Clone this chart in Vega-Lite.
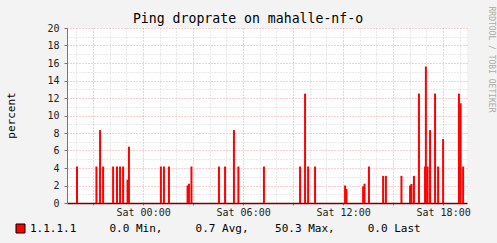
{
  "$schema": "https://vega.github.io/schema/vega-lite/v6.json",
  "width": 400,
  "height": 175,
  "autosize": {"type": "none"},
  "padding": {"left": 67, "top": 28, "right": 30, "bottom": 40},
  "background": "#F3F3F3",
  "title": {
    "text": "Ping droprate on mahalle-nf-o",
    "font": "DejaVu Sans Mono",
    "fontSize": 13.2,
    "fontWeight": "normal",
    "color": "#000000",
    "anchor": "middle",
    "dx": -19,
    "dy": 24
  },
  "data": {
    "values": [
      {"t": "2024-01-05T20:02:00Z", "v": 4.17, "host": "1.1.1.1"},
      {"t": "2024-01-05T21:12:00Z", "v": 4.17, "host": "1.1.1.1"},
      {"t": "2024-01-05T21:25:00Z", "v": 8.33, "host": "1.1.1.1"},
      {"t": "2024-01-05T21:36:00Z", "v": 4.17, "host": "1.1.1.1"},
      {"t": "2024-01-05T22:12:00Z", "v": 4.17, "host": "1.1.1.1"},
      {"t": "2024-01-05T22:26:00Z", "v": 4.17, "host": "1.1.1.1"},
      {"t": "2024-01-05T22:37:00Z", "v": 4.17, "host": "1.1.1.1"},
      {"t": "2024-01-05T22:48:00Z", "v": 4.17, "host": "1.1.1.1"},
      {"t": "2024-01-05T23:04:00Z", "v": 2.67, "host": "1.1.1.1"},
      {"t": "2024-01-05T23:09:00Z", "v": 6.44, "host": "1.1.1.1"},
      {"t": "2024-01-06T01:04:00Z", "v": 4.17, "host": "1.1.1.1"},
      {"t": "2024-01-06T01:15:00Z", "v": 4.17, "host": "1.1.1.1"},
      {"t": "2024-01-06T01:33:00Z", "v": 4.17, "host": "1.1.1.1"},
      {"t": "2024-01-06T02:40:00Z", "v": 2.0, "host": "1.1.1.1"},
      {"t": "2024-01-06T02:45:00Z", "v": 2.2, "host": "1.1.1.1"},
      {"t": "2024-01-06T02:54:00Z", "v": 4.17, "host": "1.1.1.1"},
      {"t": "2024-01-06T04:33:00Z", "v": 4.17, "host": "1.1.1.1"},
      {"t": "2024-01-06T04:55:00Z", "v": 4.17, "host": "1.1.1.1"},
      {"t": "2024-01-06T05:27:00Z", "v": 8.33, "host": "1.1.1.1"},
      {"t": "2024-01-06T05:43:00Z", "v": 4.17, "host": "1.1.1.1"},
      {"t": "2024-01-06T07:15:00Z", "v": 4.17, "host": "1.1.1.1"},
      {"t": "2024-01-06T09:25:00Z", "v": 4.17, "host": "1.1.1.1"},
      {"t": "2024-01-06T09:43:00Z", "v": 12.5, "host": "1.1.1.1"},
      {"t": "2024-01-06T09:54:00Z", "v": 4.17, "host": "1.1.1.1"},
      {"t": "2024-01-06T10:19:00Z", "v": 4.17, "host": "1.1.1.1"},
      {"t": "2024-01-06T12:07:00Z", "v": 2.0, "host": "1.1.1.1"},
      {"t": "2024-01-06T12:12:00Z", "v": 1.6, "host": "1.1.1.1"},
      {"t": "2024-01-06T13:12:00Z", "v": 1.9, "host": "1.1.1.1"},
      {"t": "2024-01-06T13:17:00Z", "v": 2.2, "host": "1.1.1.1"},
      {"t": "2024-01-06T13:33:00Z", "v": 4.17, "host": "1.1.1.1"},
      {"t": "2024-01-06T14:24:00Z", "v": 3.1, "host": "1.1.1.1"},
      {"t": "2024-01-06T14:34:00Z", "v": 3.1, "host": "1.1.1.1"},
      {"t": "2024-01-06T15:30:00Z", "v": 3.1, "host": "1.1.1.1"},
      {"t": "2024-01-06T16:01:00Z", "v": 2.0, "host": "1.1.1.1"},
      {"t": "2024-01-06T16:06:00Z", "v": 2.17, "host": "1.1.1.1"},
      {"t": "2024-01-06T16:15:00Z", "v": 3.1, "host": "1.1.1.1"},
      {"t": "2024-01-06T16:33:00Z", "v": 12.5, "host": "1.1.1.1"},
      {"t": "2024-01-06T16:55:00Z", "v": 4.17, "host": "1.1.1.1"},
      {"t": "2024-01-06T16:58:00Z", "v": 15.6, "host": "1.1.1.1"},
      {"t": "2024-01-06T17:04:00Z", "v": 4.17, "host": "1.1.1.1"},
      {"t": "2024-01-06T17:13:00Z", "v": 8.33, "host": "1.1.1.1"},
      {"t": "2024-01-06T17:31:00Z", "v": 12.5, "host": "1.1.1.1"},
      {"t": "2024-01-06T17:42:00Z", "v": 4.17, "host": "1.1.1.1"},
      {"t": "2024-01-06T18:00:00Z", "v": 7.3, "host": "1.1.1.1"},
      {"t": "2024-01-06T18:57:00Z", "v": 12.5, "host": "1.1.1.1"},
      {"t": "2024-01-06T19:03:00Z", "v": 11.4, "host": "1.1.1.1"},
      {"t": "2024-01-06T19:12:00Z", "v": 4.17, "host": "1.1.1.1"}
    ]
  },
  "mark": {"type": "bar", "size": 2},
  "encoding": {
    "x": {
      "field": "t",
      "type": "temporal",
      "scale": {
        "type": "utc",
        "nice": false,
        "padding": 0,
        "domain": [1704482760000, 1704569160000]
      },
      "axis": {
        "title": "RRDTOOL / TOBI OETIKER",
        "titleFont": "DejaVu Sans Mono",
        "titleFontSize": 8,
        "titleFontWeight": "normal",
        "titleColor": "#AAAAAA",
        "titleAngle": 90,
        "titleAlign": "center",
        "titleBaseline": "middle",
        "titleX": 423,
        "titleY": -144,
        "tickCount": 24,
        "format": "%a %H:%M",
        "labelExpr": "utchours(datum.value) % 6 === 0 ? datum.label : ''",
        "labelFont": "DejaVu Sans Mono",
        "labelFontSize": 10,
        "labelColor": "#222222",
        "labelPadding": 2,
        "labelAngle": 0,
        "labelOverlap": false,
        "labelFlush": false,
        "domainColor": "#7A0000",
        "domainWidth": 1.5,
        "tickSize": 2,
        "tickColor": "#F06060",
        "tickOpacity": {"condition": {"test": "utchours(datum.value) % 3 === 0", "value": 1}, "value": 0},
        "gridColor": {"condition": {"test": "utchours(datum.value) % 3 === 0", "value": "#F0A0A0"}, "value": "#D4D4D4"},
        "gridDash": [1, 2],
        "gridWidth": 1
      }
    },
    "y": {
      "field": "v",
      "type": "quantitative",
      "scale": {"domain": [0, 20], "nice": false},
      "axis": {
        "title": "percent",
        "titleFont": "DejaVu Sans Mono",
        "titleFontSize": 11,
        "titleFontWeight": "normal",
        "titleColor": "#000000",
        "titleAngle": -90,
        "titleAlign": "center",
        "titleBaseline": "middle",
        "titleX": -56,
        "titleY": 87,
        "values": [0,1,2,3,4,5,6,7,8,9,10,11,12,13,14,15,16,17,18,19,20],
        "labelExpr": "datum.value % 2 === 0 ? datum.label : ''",
        "labelFont": "DejaVu Sans Mono",
        "labelFontSize": 10,
        "labelColor": "#222222",
        "labelPadding": 5,
        "domainColor": "#777777",
        "tickSize": 3,
        "tickColor": "#777777",
        "tickOpacity": {"condition": {"test": "datum.value % 2 === 0", "value": 1}, "value": 0},
        "gridColor": {"condition": {"test": "datum.value % 2 === 0", "value": "#F0A0A0"}, "value": "#D4D4D4"},
        "gridDash": [1, 2],
        "gridWidth": 1
      }
    },
    "color": {
      "field": "host",
      "type": "nominal",
      "scale": {"range": ["#FF0000"]},
      "legend": {
        "orient": "none",
        "legendX": -52,
        "legendY": 195,
        "title": null,
        "padding": 0,
        "symbolType": "square",
        "symbolSize": 81,
        "symbolStrokeColor": "#000000",
        "symbolStrokeWidth": 1,
        "labelFont": "DejaVu Sans Mono",
        "labelFontSize": 11,
        "labelColor": "#000000",
        "labelLimit": 0,
        "labelOffset": 4,
        "labelExpr": "datum.label + '\u00a0\u00a0\u00a0\u00a0\u00a00.0 Min,\u00a0\u00a0\u00a0\u00a0\u00a00.7 Avg,\u00a0\u00a0\u00a0\u00a050.3 Max,\u00a0\u00a0\u00a0\u00a0\u00a00.0 Last'"
      }
    }
  },
  "config": {
    "font": "DejaVu Sans Mono",
    "view": {"fill": "#FFFFFF", "stroke": null}
  }
}
